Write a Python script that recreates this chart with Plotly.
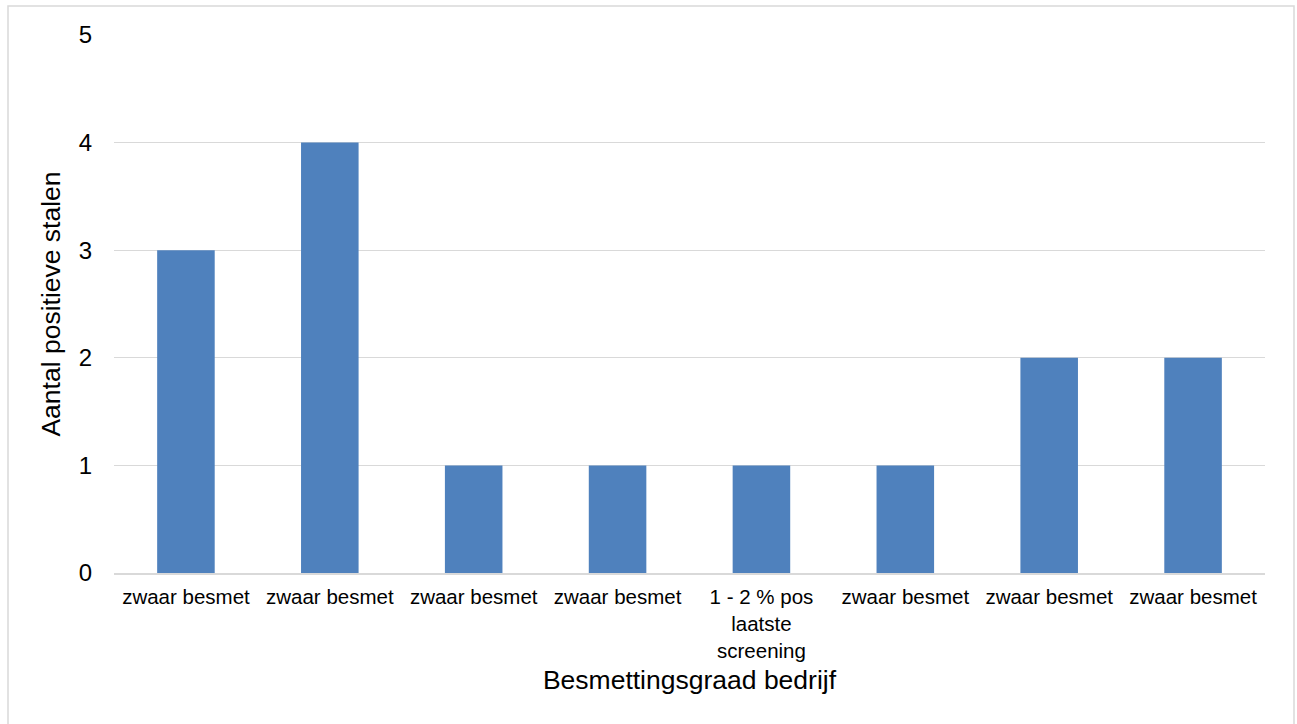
import plotly.graph_objects as go

# Besmettingsgraad per bedrijf en aantal positieve stalen
categories = [
    "zwaar besmet", "zwaar besmet", "zwaar besmet", "zwaar besmet",
    "1 - 2 % pos<br>laatste<br>screening",
    "zwaar besmet", "zwaar besmet", "zwaar besmet",
]
values = [3, 4, 1, 1, 1, 1, 2, 2]
positions = list(range(len(categories)))

W, H = 1297, 724
ML, MR, MT, MB = 114, 32, 35, 151
pw, ph = W - ML - MR, H - MT - MB

fig = go.Figure(
    go.Bar(
        x=positions,
        y=values,
        width=0.4,
        marker=dict(color="#4F81BD", line=dict(width=0)),
    )
)

font = "Liberation Sans, Arial, sans-serif"

fig.update_layout(
    width=W,
    height=H,
    margin=dict(l=ML, r=MR, t=MT, b=MB),
    plot_bgcolor="white",
    paper_bgcolor="white",
    showlegend=False,
    font=dict(family=font, color="#000000"),
    xaxis=dict(
        tickmode="array",
        tickvals=positions,
        ticktext=categories,
        range=[-0.5, len(categories) - 0.5],
        tickfont=dict(size=20.5, color="#000000"),
        showgrid=False,
        zeroline=False,
        showline=True,
        linecolor="#D9D9D9",
        linewidth=1.5,
        ticks="",
        ticklabelstandoff=5,
        title=dict(text="Besmettingsgraad bedrijf", font=dict(size=26.5), standoff=10),
    ),
    yaxis=dict(
        range=[0, 5],
        dtick=1,
        tickfont=dict(size=24, color="#000000"),
        showgrid=True,
        gridcolor="#D9D9D9",
        gridwidth=1,
        zeroline=False,
        ticks="",
        ticklabelstandoff=21,
        title=dict(text="Aantal positieve stalen", font=dict(size=26.5), standoff=10),
    ),
)

# Chart border
x0 = (8 - ML) / pw
x1 = (W - 3 - ML) / pw
y1 = (H - MB - 6) / ph
y0 = (H - MB - (H + 10)) / ph
fig.add_shape(
    type="rect", xref="paper", yref="paper",
    x0=x0, x1=x1, y0=y0, y1=y1,
    line=dict(color="#D9D9D9", width=1.5),
    fillcolor="rgba(0,0,0,0)",
    layer="below",
)

fig.write_html("out.html")
